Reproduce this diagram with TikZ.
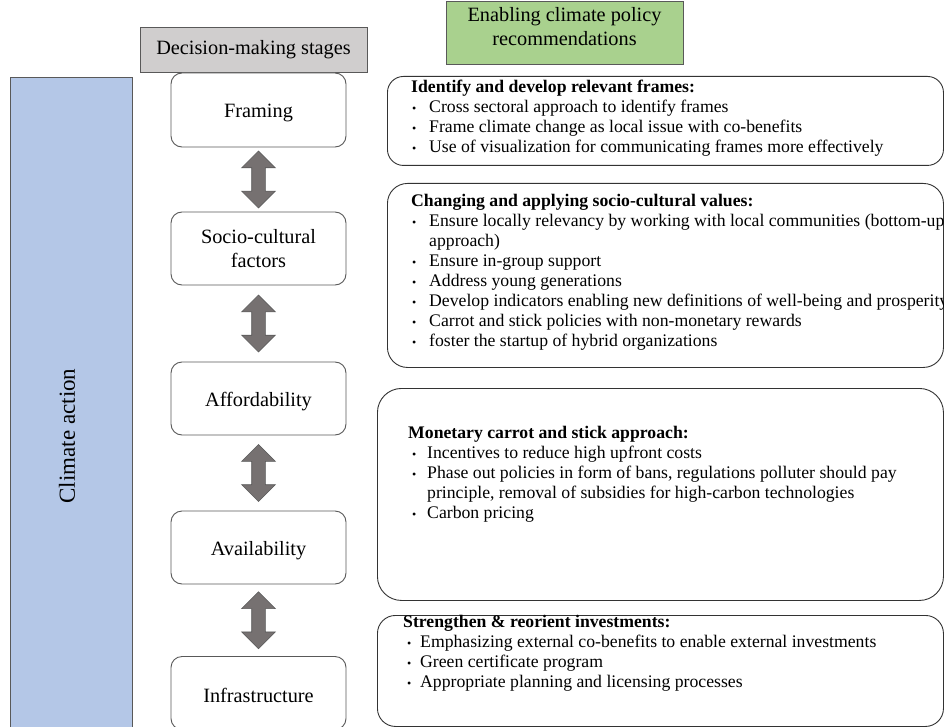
\documentclass[tikz,border=0pt]{standalone}
\usepackage{fontspec}
\setmainfont{Liberation Serif}
\usetikzlibrary{shapes.arrows,calc}
\definecolor{barblue}{HTML}{B4C7E7}
\definecolor{hdrgray}{HTML}{D0CECE}
\definecolor{hdrgreen}{HTML}{A9D18E}
\definecolor{arrowgray}{HTML}{767171}
\definecolor{edgegray}{HTML}{595959}
\newcommand{\blt}[2]{\makebox[#2][l]{\hspace*{#1}{\fontsize{12}{12}\selectfont\textbullet}}}
\newcommand{\rtext}[1]{\parbox[t]{700pt}{\raggedright\fontsize{17.7}{20}\selectfont #1}}
\begin{document}
\begin{tikzpicture}[x=1pt,y=-1pt,
  stagebox/.style={draw=edgegray, line width=0.9pt, rounded corners=11pt, fill=white,
    minimum width=175pt, inner sep=0pt, align=center, font=\fontsize{20.3}{24}\selectfont,
    execute at begin node={\rule{0pt}{19.9pt}}},
  hdr/.style={draw=edgegray, line width=0.9pt, inner sep=0pt, align=center,
    font=\fontsize{20.3}{24}\selectfont},
  recbox/.style={draw=black!80, line width=0.9pt, inner sep=0pt},
  linkarrow/.style={double arrow, double arrow head extend=10pt, minimum height=57pt,
    minimum width=33pt, inner xsep=0pt, inner ysep=6.5pt, fill=arrowgray, draw=edgegray,
    line width=0.6pt, rotate=90, font=\tiny},
  rectext/.style={anchor=base west, inner sep=0pt},
]
\useasboundingbox (0,0) rectangle (944,727);
\fill[white] (0,0) rectangle (944,727);

% left bar
\node[draw=edgegray, line width=0.9pt, fill=barblue, minimum width=122pt, minimum height=670pt,
  inner sep=0pt, anchor=north west] (bar) at (10,77) {};
\node[rotate=90, inner sep=0pt, font=\fontsize{23}{26}\selectfont] (climate) at (67,436) {Climate action};

% headers
\node[hdr, fill=hdrgray, minimum width=227pt, minimum height=45pt] (hdec) at (253.5,49.5) {Decision-making stages};
\node[hdr, fill=hdrgreen, minimum width=237pt, minimum height=63pt] (henab) at (564.5,32.5)
  {Enabling climate policy\\recommendations\rule[-13pt]{0pt}{0pt}};

% stages
\node[stagebox, minimum height=74pt] (framing) at (258.5,110) {Framing};
\node[stagebox, minimum height=73pt] (socio) at (258.5,248.5) {Socio-cultural\\factors};
\node[stagebox, minimum height=73pt] (afford) at (258.5,398.5) {Affordability};
\node[stagebox, minimum height=73pt] (avail) at (258.5,547.5) {Availability};
\node[stagebox, minimum height=73pt] (infra) at (258.5,693) {Infrastructure};

% double arrows between stages
\node[linkarrow] (a1) at ($(framing.south)!0.5!(socio.north)$) {};
\node[linkarrow] (a2) at ($(socio.south)!0.5!(afford.north)$) {};
\node[linkarrow] (a3) at ($(afford.south)!0.5!(avail.north)$) {};
\node[linkarrow] (a4) at ($(avail.south)!0.5!(infra.north)$) {};

% recommendation boxes
\node[recbox, rounded corners=16pt, minimum width=556pt, minimum height=89pt, anchor=north west] (r1) at (387,76) {};
\node[recbox, rounded corners=20pt, minimum width=556pt, minimum height=184pt, anchor=north west] (r2) at (387,183) {};
\node[recbox, rounded corners=24pt, minimum width=566pt, minimum height=212pt, anchor=north west] (r3) at (377,388) {};
\node[recbox, rounded corners=18pt, minimum width=566pt, minimum height=111pt, anchor=north west] (r4) at (377,615) {};

\node[rectext] (t1) at (411,93) {\rtext{%
  {\bfseries Identify and develop relevant frames:}\\
  \blt{1pt}{18pt}Cross sectoral approach to identify frames\\
  \blt{1pt}{18pt}Frame climate change as local issue with co-benefits\\
  \blt{1pt}{18pt}Use of visualization for communicating frames more effectively}};

\node[rectext] (t2) at (411,207) {\rtext{%
  {\bfseries Changing and applying socio-cultural values:}\\
  \blt{1pt}{18pt}Ensure locally relevancy by working with local communities (bottom-up\\
  \hspace*{18pt}approach)\\
  \blt{1pt}{18pt}Ensure in-group support\\
  \blt{1pt}{18pt}Address young generations\\
  \blt{1pt}{18pt}Develop indicators enabling new definitions of well-being and prosperity\\
  \blt{1pt}{18pt}Carrot and stick policies with non-monetary rewards\\
  \blt{1pt}{18pt}foster the startup of hybrid organizations}};

\node[rectext] (t3) at (408,438) {\rtext{%
  {\bfseries Monetary carrot and stick approach:}\\
  \blt{4pt}{19pt}Incentives to reduce high upfront costs\\
  \blt{4pt}{19pt}Phase out policies in form of bans, regulations polluter should pay\\
  \hspace*{19pt}principle, removal of subsidies for high-carbon technologies\\
  \blt{4pt}{19pt}Carbon pricing}};

\node[rectext] (t4) at (403,627) {\rtext{%
  {\bfseries Strengthen \& reorient investments:}\\
  \blt{4pt}{17pt}Emphasizing external co-benefits to enable external investments\\
  \blt{4pt}{17pt}Green certificate program\\
  \blt{4pt}{17pt}Appropriate planning and licensing processes}};
\end{tikzpicture}
\end{document}
